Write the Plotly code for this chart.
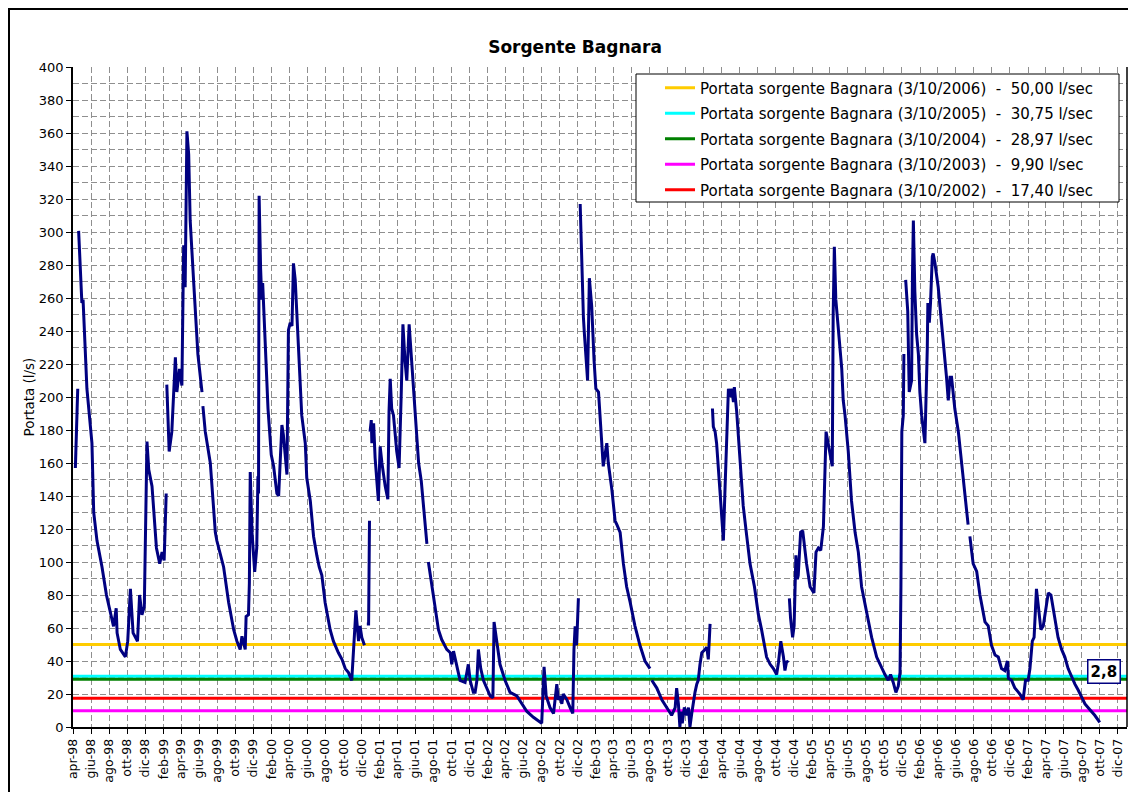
import pandas as pd
import plotly.graph_objects as go

# ---------------- data ----------------
start_date = "1998-04-01"
end_date = "2008-01-01"

# days since 1998-04-01 and flow in l/s (None = gap in the record)
days = [
    8, 16, 17,
    19, 30, 34, 47, 64, 70, 81, 98, 113, 126, 137, 146, 149, 160, 177, 185, 194, 203, 211, 218, 225, 233, 241,
    250, 256, 267, 282, 293, 301, 308, 315, 316,
    317, 325, 334, 340, 346, 351, 360, 368, 374, 379, 385, 391, 396, 408, 413, 422, 436, 437,
    439, 447, 464, 481, 486, 509, 526, 543, 554, 565, 571, 582, 585, 593, 596, 599, 605, 614, 621, 625, 627,
    629, 634, 638, 641, 650, 659, 670, 678, 689, 695, 700, 706, 711, 717, 723, 728, 734, 740, 745, 751, 762,
    773, 785, 790, 802, 813, 824, 832, 841, 852, 869, 880, 897, 909, 920, 931, 942, 948, 956, 965, 970, 976,
    985, 988,
    993, 999, 1002, 1003,
    1004, 1008, 1010, 1016, 1021, 1032, 1038, 1044, 1055, 1064, 1068, 1072, 1077, 1083, 1094, 1102, 1109,
    1115, 1122, 1128, 1136, 1145, 1156, 1168, 1177, 1190, 1196, 1198,
    1201, 1213, 1224, 1235, 1246, 1263, 1275, 1280, 1286, 1297, 1308, 1325, 1336, 1342, 1353, 1359, 1365,
    1370, 1378, 1387, 1398, 1410, 1419, 1423, 1432, 1443, 1460, 1477, 1500, 1517, 1534, 1556, 1573, 1584,
    1592, 1599, 1612, 1624, 1635, 1640, 1646, 1652, 1657, 1669, 1680, 1689, 1693, 1697, 1702, 1708, 1710,
    1714, 1719, 1725, 1728, 1733, 1739, 1745, 1753, 1761, 1767, 1776, 1787, 1792, 1804, 1809, 1821, 1832,
    1838, 1849, 1860, 1871, 1883, 1899, 1916, 1933, 1950, 1952,
    1956, 1973, 1990, 2006, 2023, 2035, 2040, 2046, 2051, 2055, 2059, 2066, 2074, 2080, 2085, 2091, 2096,
    2102, 2108, 2113, 2119, 2125, 2136, 2142, 2147, 2153, 2156,
    2161, 2164, 2170, 2175, 2187, 2198, 2203, 2209, 2215, 2220, 2226, 2232, 2235, 2243, 2254, 2265, 2277,
    2288, 2303, 2316, 2327, 2336, 2344, 2356, 2367, 2378, 2384, 2392, 2401, 2406, 2412, 2417, 2419,
    2421, 2425, 2432, 2437, 2443, 2448, 2451, 2459, 2466, 2479, 2491, 2504, 2511, 2519, 2527, 2530, 2536,
    2545, 2553, 2560, 2566, 2569, 2573, 2578, 2590, 2598, 2603, 2609, 2620, 2631, 2643, 2654, 2665, 2682,
    2699, 2716, 2733, 2744, 2755, 2763, 2772, 2781, 2789, 2795, 2798, 2801, 2806, 2808, 2811,
    2814, 2821, 2826, 2831, 2834, 2837, 2840, 2845, 2851, 2857, 2862, 2868, 2873, 2879, 2887, 2889, 2894,
    2898, 2904, 2907, 2913, 2924, 2935, 2947, 2952, 2958, 2964, 2969, 2980, 2992, 3003, 3016, 3025, 3028,
    3031, 3042, 3054, 3065, 3082, 3093, 3104, 3116, 3127, 3138, 3149, 3158, 3161, 3172, 3183, 3200, 3211,
    3219, 3228, 3234, 3242, 3248, 3256, 3262, 3271, 3279, 3290, 3296, 3305, 3318, 3329, 3341, 3352, 3363,
    3374, 3386, 3397, 3408, 3420, 3436, 3453, 3470,
]
flow = [
    157, 205, None,
    300.7, 257, 259, 205, 172, 130, 113, 97, 80, 70, 61, 72, 57, 47, 42.5, 52, 83.7, 57, 54, 52, 80, 68, 73,
    173, 156, 146, 108.5, 99, 106, 101, 141.5, None,
    207.5, 167, 179, 198, 224, 203, 217, 207, 292, 266.5, 361, 347, 307, 269, 255, 226, 203, None,
    194.5, 179, 160, 118, 113, 97, 75.5, 59, 52, 47, 55, 47, 67, 68, 87, 154.5, 118, 94, 108.5, 152, 141.5,
    322, 278, 259, 269, 226, 193, 165, 158, 141.5, 140, 160, 183, 177, 163, 153, 240.5, 245, 243, 281, 271, 226,
    189, 172, 151, 137, 115.5, 104, 97, 92, 75.5, 59, 52, 45, 41, 35.4, 33, 28.3, 49.5, 70.7, 52, 61.3, 54.3,
    49.5, None,
    62.5, 62.5, 125, None,
    179, 186, 172, 184, 163, 137, 170, 160, 146, 138, 191, 211, 193, 189, 167, 157, 200,
    244, 222, 210, 244, 222, 193, 160, 149, 120, 111, None,
    100, 85, 71, 59, 53, 47, 45, 38, 46, 38, 28.3, 27, 38, 28.3, 21, 21, 28.3,
    47, 35.4, 28.3, 23.6, 18.8, 17.7, 63.7, 52, 38, 28.3, 21, 18.8, 14, 9.4, 5.9, 3.5, 2.3,
    36.5, 18.8, 11.8, 8.2, 26, 16.5, 18.8, 14, 20, 16.5, 11.8, 8.2, 47, 61, 49.5, 78, None,
    317, 281, 248, 239, 222, 210, 272, 255, 222, 205, 203, 174.5, 158, 172, 160, 144, 125,
    122.6, 118, 99, 85, 75.5, 61.3, 49.5, 40, 35.4, None,
    28.3, 23.6, 16.5, 11.8, 7.1, 11.8, 23.6, 14, 0, 9.4, 2.3, 11.8, 7.1, 11.8, 0, 8.2, 15.3,
    21, 26, 28.3, 38, 45, 47, 48.3, 41, 62.5, None,
    193, 182, 179, 172, 141.5, 113, 141.5, 179, 205, 200, 205, 197, 206, 191, 163, 134, 115.5,
    99, 85, 68.4, 59, 50.7, 42.4, 38, 35.4, 31.8, 39, 52, 42.4, 34.2, 40, 39, None,
    78, 66, 54.3, 61.3, 104, 89.6, 92, 118, 119, 99, 85, 81.3, 106, 108.5, 107, 113, 121.5,
    179, 170, 163, 158, 250, 291, 259, 236, 217, 198, 189, 167, 137, 118, 106, 85, 68.4,
    54.3, 42.4, 35.4, 31.8, 28.3, 31.8, 27, 21, 24.7, 33, 85, 179, 189, 226, None,
    271, 252, 203, 207.5, 210, 274, 307, 264, 238, 226, 203, 189, 179, 172, 229, 257, 245,
    257, 285, 287, 281, 266.5, 245, 224, 212, 198, 212, 212, 193, 179, 160, 141.5, 122.6, None,
    115.5, 99, 94.3, 80, 63.7, 61.3, 49.5, 43.6, 42.4, 35.4, 34.2, 40, 29.5, 28.3, 23.6, 20, 16.5,
    28.3, 28.3, 35.4, 52, 54.3, 83.7, 73, 59, 61.3, 73, 81.3, 80, 66, 54.3, 47, 42.4, 35.4,
    30.6, 26, 22.4, 18.8, 14, 10.6, 7.1, 2.8,
]

ref_labels = [
    "Portata sorgente Bagnara (3/10/2006)",
    "Portata sorgente Bagnara (3/10/2005)",
    "Portata sorgente Bagnara (3/10/2004)",
    "Portata sorgente Bagnara (3/10/2003)",
    "Portata sorgente Bagnara (3/10/2002)",
]
ref_values = [50.00, 30.75, 28.97, 9.90, 17.40]
ref_colors = ["#FFCC00", "#00FFFF", "#008000", "#FF00FF", "#FF0000"]

month_abbr = ["gen", "feb", "mar", "apr", "mag", "giu", "lug", "ago", "set", "ott", "nov", "dic"]
tick_first = "1998-04-01"
tick_last = "2007-12-01"

title_text = "Sorgente Bagnara"
y_title = "Portata (l/s)"

# ---------------- layout geometry (page pixels; the page body adds an 8px margin) ----------------
BODY = 8
W, H = 1136 - BODY, 792 - BODY
ML, MR, MT, MB = 65, 9, 59, 65
PW, PH = W - ML - MR, H - MT - MB


def px(vx):
    return (vx - BODY - ML) / PW


def py(vy):
    return 1 - (vy - BODY - MT) / PH


# ---------------- build ----------------
dates = pd.Timestamp(start_date) + pd.to_timedelta(days, unit="D")
tick_dates = pd.date_range(tick_first, tick_last, freq="2MS")
tick_text = [f"{month_abbr[d.month - 1]}-{d.strftime('%y')}" for d in tick_dates]

FONT = "DejaVu Sans"
NB = "\u00a0"


def it_num(v):
    return f"{v:.2f}".replace(".", ",")


fig = go.Figure()

for lab, val, col in zip(ref_labels, ref_values, ref_colors):
    fig.add_trace(go.Scatter(
        x=[pd.Timestamp(start_date), pd.Timestamp(end_date)], y=[val, val],
        mode="lines", line=dict(color=col, width=3),
        name=f"{lab}{NB}{NB}-{NB}{NB}{it_num(val)} l/sec",
        legendgroup=lab, hoverinfo="skip",
    ))

fig.add_trace(go.Scatter(
    x=dates, y=flow, mode="lines", line=dict(color="#000080", width=3),
    showlegend=False, connectgaps=False, name="Portata",
))

last_val = [v for v in flow if v is not None][-1]
last_date = dates[len(flow) - 1]

grid_col = "#8f8f8f"
fig.update_layout(
    width=W, height=H,
    margin=dict(l=ML, r=MR, t=MT, b=MB),
    paper_bgcolor="white", plot_bgcolor="white",
    font=dict(family=FONT, color="black", size=12),
    title=dict(text=f"<b>{title_text}</b>", x=(575 - BODY) / W, xref="container", xanchor="center",
               y=1 - (47 - BODY) / H, yref="container", yanchor="middle",
               font=dict(family=FONT, size=17, color="black")),
    showlegend=True,
    legend=dict(x=px(660), xanchor="left", y=py(71.5), yanchor="top",
                bgcolor="rgba(0,0,0,0)", borderwidth=0,
                font=dict(family=FONT, size=15, color="black"),
                traceorder="grouped", tracegroupgap=3),
    xaxis=dict(
        type="date", range=[pd.Timestamp(start_date), pd.Timestamp(end_date)],
        tickmode="array", tickvals=tick_dates, ticktext=tick_text, tickangle=-90,
        tickfont=dict(family=FONT, size=12.5, color="black"),
        ticks="outside", ticklen=5, tickcolor="black",
        showline=True, linecolor="black", linewidth=1.5,
        showgrid=True, gridcolor=grid_col, gridwidth=1, griddash="6px,3px",
        zeroline=False,
    ),
    yaxis=dict(
        range=[0, 400], dtick=20, tick0=0,
        tickfont=dict(family=FONT, size=13, color="black"),
        ticks="outside", ticklen=5, tickcolor="black",
        showline=True, linecolor="black", linewidth=1.5,
        showgrid=True, gridcolor=grid_col, gridwidth=1, griddash="6px,3px",
        minor=dict(dtick=10, showgrid=True, gridcolor=grid_col, gridwidth=1, griddash="6px,3px"),
        zeroline=False,
        title=dict(text=y_title, font=dict(family=FONT, size=13.5, color="black"), standoff=1),
    ),
    shapes=[
        # legend box
        dict(type="rect", xref="paper", yref="paper",
             x0=px(636), x1=px(1119), y0=py(202), y1=py(74),
             line=dict(color="black", width=1), fillcolor="white", layer="above"),
        # right edge of plot area
        dict(type="line", xref="paper", yref="paper", x0=1, x1=1, y0=0, y1=1,
             line=dict(color="black", width=1.5)),
        # outer chart border
        dict(type="rect", xref="paper", yref="paper",
             x0=px(9), x1=px(1150), y0=py(810), y1=py(9),
             line=dict(color="black", width=2), fillcolor="rgba(0,0,0,0)", layer="above"),
    ],
    annotations=[
        dict(x=last_date, y=last_val, xref="x", yref="y",
             text=f"<b>{str(last_val).replace('.', ',')}</b>", showarrow=False,
             xshift=4, yshift=51, bgcolor="white", bordercolor="#000080", borderwidth=1.5,
             borderpad=2, font=dict(family=FONT, size=15, color="black")),
    ],
)

fig.write_html("out.html")
